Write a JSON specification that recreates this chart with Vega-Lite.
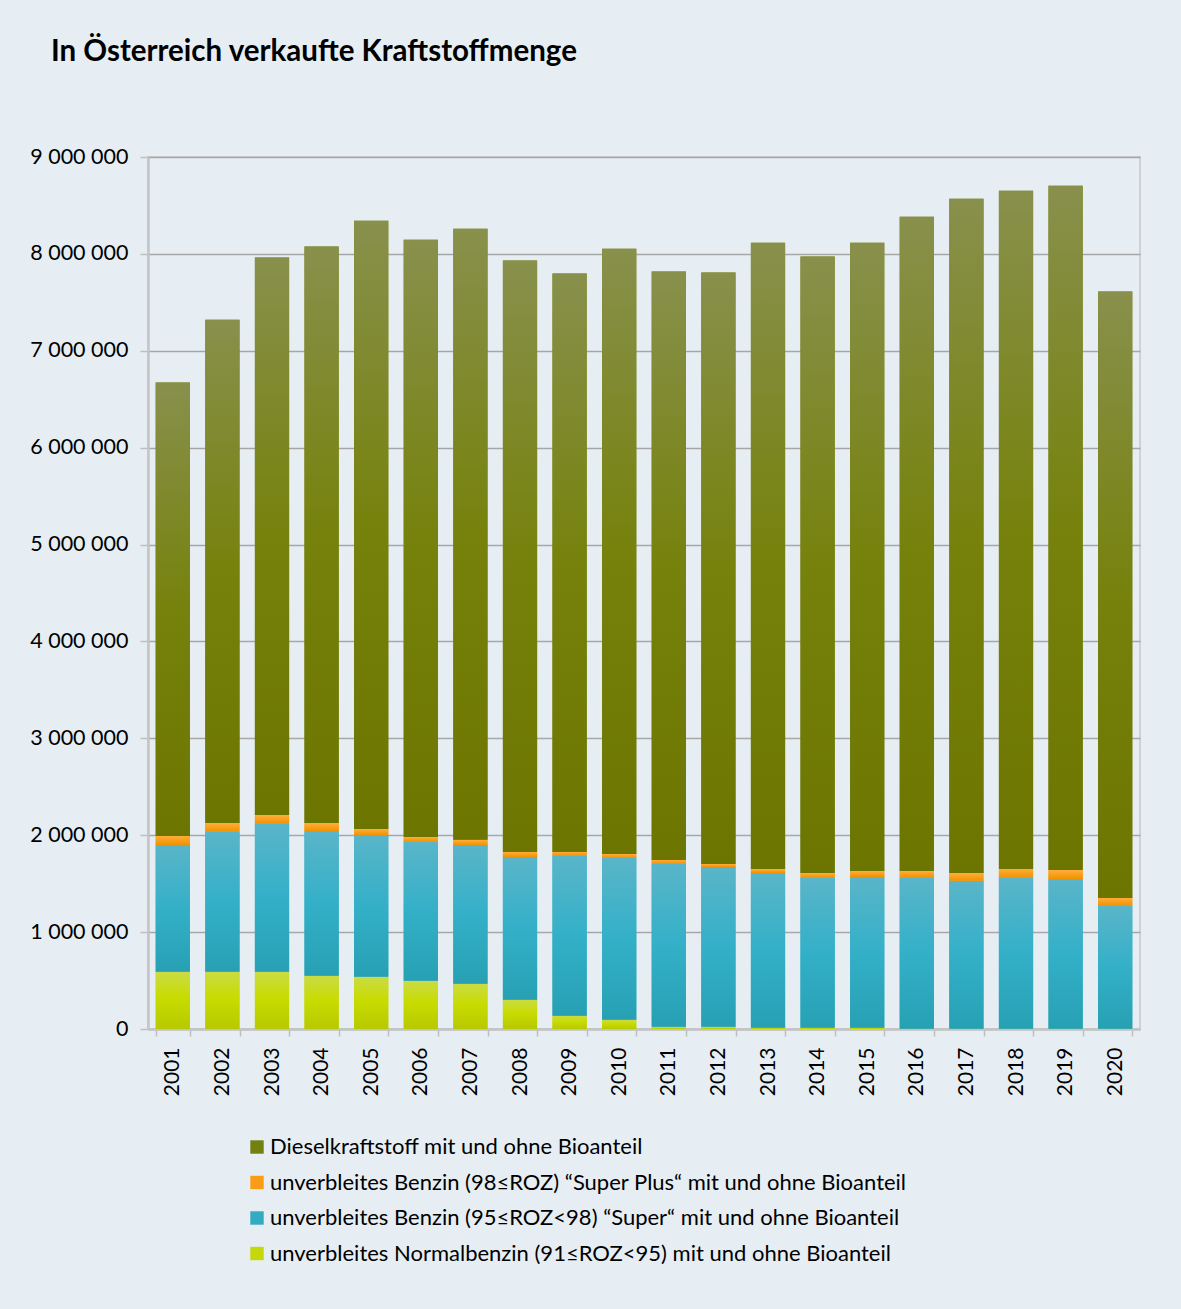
{
  "$schema": "https://vega.github.io/schema/vega-lite/v6.json",
  "width": 992,
  "height": 872,
  "autosize": {"type": "none"},
  "padding": {"left": 148, "top": 157, "right": 41, "bottom": 280},
  "background": "#e6eef4",
  "title": {"text": "In Österreich verkaufte Kraftstoffmenge", "anchor": "start", "frame": "group", "dx": -97, "offset": 79, "font": "Lato", "fontSize": 29.5, "fontWeight": "bold", "color": "#000000"},
  "data": {"values": [
    {"year": "2001", "fuel": "unverbleites Normalbenzin  (91≤ROZ<95) mit und ohne Bioanteil", "value": 591000},
    {"year": "2001", "fuel": "unverbleites Benzin (95≤ROZ<98) “Super“ mit und ohne Bioanteil", "value": 1309000},
    {"year": "2001", "fuel": "unverbleites Benzin (98≤ROZ) “Super Plus“ mit und ohne Bioanteil", "value": 93000},
    {"year": "2001", "fuel": "Dieselkraftstoff mit und ohne Bioanteil", "value": 4680000},
    {"year": "2002", "fuel": "unverbleites Normalbenzin  (91≤ROZ<95) mit und ohne Bioanteil", "value": 591000},
    {"year": "2002", "fuel": "unverbleites Benzin (95≤ROZ<98) “Super“ mit und ohne Bioanteil", "value": 1446000},
    {"year": "2002", "fuel": "unverbleites Benzin (98≤ROZ) “Super Plus“ mit und ohne Bioanteil", "value": 90000},
    {"year": "2002", "fuel": "Dieselkraftstoff mit und ohne Bioanteil", "value": 5193000},
    {"year": "2003", "fuel": "unverbleites Normalbenzin  (91≤ROZ<95) mit und ohne Bioanteil", "value": 591000},
    {"year": "2003", "fuel": "unverbleites Benzin (95≤ROZ<98) “Super“ mit und ohne Bioanteil", "value": 1529000},
    {"year": "2003", "fuel": "unverbleites Benzin (98≤ROZ) “Super Plus“ mit und ohne Bioanteil", "value": 89000},
    {"year": "2003", "fuel": "Dieselkraftstoff mit und ohne Bioanteil", "value": 5753000},
    {"year": "2004", "fuel": "unverbleites Normalbenzin  (91≤ROZ<95) mit und ohne Bioanteil", "value": 549000},
    {"year": "2004", "fuel": "unverbleites Benzin (95≤ROZ<98) “Super“ mit und ohne Bioanteil", "value": 1495000},
    {"year": "2004", "fuel": "unverbleites Benzin (98≤ROZ) “Super Plus“ mit und ohne Bioanteil", "value": 83000},
    {"year": "2004", "fuel": "Dieselkraftstoff mit und ohne Bioanteil", "value": 5948000},
    {"year": "2005", "fuel": "unverbleites Normalbenzin  (91≤ROZ<95) mit und ohne Bioanteil", "value": 539000},
    {"year": "2005", "fuel": "unverbleites Benzin (95≤ROZ<98) “Super“ mit und ohne Bioanteil", "value": 1464000},
    {"year": "2005", "fuel": "unverbleites Benzin (98≤ROZ) “Super Plus“ mit und ohne Bioanteil", "value": 62000},
    {"year": "2005", "fuel": "Dieselkraftstoff mit und ohne Bioanteil", "value": 6278000},
    {"year": "2006", "fuel": "unverbleites Normalbenzin  (91≤ROZ<95) mit und ohne Bioanteil", "value": 498000},
    {"year": "2006", "fuel": "unverbleites Benzin (95≤ROZ<98) “Super“ mit und ohne Bioanteil", "value": 1436000},
    {"year": "2006", "fuel": "unverbleites Benzin (98≤ROZ) “Super Plus“ mit und ohne Bioanteil", "value": 48000},
    {"year": "2006", "fuel": "Dieselkraftstoff mit und ohne Bioanteil", "value": 6165000},
    {"year": "2007", "fuel": "unverbleites Normalbenzin  (91≤ROZ<95) mit und ohne Bioanteil", "value": 467000},
    {"year": "2007", "fuel": "unverbleites Benzin (95≤ROZ<98) “Super“ mit und ohne Bioanteil", "value": 1433000},
    {"year": "2007", "fuel": "unverbleites Benzin (98≤ROZ) “Super Plus“ mit und ohne Bioanteil", "value": 52000},
    {"year": "2007", "fuel": "Dieselkraftstoff mit und ohne Bioanteil", "value": 6308000},
    {"year": "2008", "fuel": "unverbleites Normalbenzin  (91≤ROZ<95) mit und ohne Bioanteil", "value": 302000},
    {"year": "2008", "fuel": "unverbleites Benzin (95≤ROZ<98) “Super“ mit und ohne Bioanteil", "value": 1474000},
    {"year": "2008", "fuel": "unverbleites Benzin (98≤ROZ) “Super Plus“ mit und ohne Bioanteil", "value": 52000},
    {"year": "2008", "fuel": "Dieselkraftstoff mit und ohne Bioanteil", "value": 6103000},
    {"year": "2009", "fuel": "unverbleites Normalbenzin  (91≤ROZ<95) mit und ohne Bioanteil", "value": 137000},
    {"year": "2009", "fuel": "unverbleites Benzin (95≤ROZ<98) “Super“ mit und ohne Bioanteil", "value": 1653000},
    {"year": "2009", "fuel": "unverbleites Benzin (98≤ROZ) “Super Plus“ mit und ohne Bioanteil", "value": 38000},
    {"year": "2009", "fuel": "Dieselkraftstoff mit und ohne Bioanteil", "value": 5969000},
    {"year": "2010", "fuel": "unverbleites Normalbenzin  (91≤ROZ<95) mit und ohne Bioanteil", "value": 96000},
    {"year": "2010", "fuel": "unverbleites Benzin (95≤ROZ<98) “Super“ mit und ohne Bioanteil", "value": 1673000},
    {"year": "2010", "fuel": "unverbleites Benzin (98≤ROZ) “Super Plus“ mit und ohne Bioanteil", "value": 38000},
    {"year": "2010", "fuel": "Dieselkraftstoff mit und ohne Bioanteil", "value": 6247000},
    {"year": "2011", "fuel": "unverbleites Normalbenzin  (91≤ROZ<95) mit und ohne Bioanteil", "value": 24000},
    {"year": "2011", "fuel": "unverbleites Benzin (95≤ROZ<98) “Super“ mit und ohne Bioanteil", "value": 1683000},
    {"year": "2011", "fuel": "unverbleites Benzin (98≤ROZ) “Super Plus“ mit und ohne Bioanteil", "value": 38000},
    {"year": "2011", "fuel": "Dieselkraftstoff mit und ohne Bioanteil", "value": 6072000},
    {"year": "2012", "fuel": "unverbleites Normalbenzin  (91≤ROZ<95) mit und ohne Bioanteil", "value": 24000},
    {"year": "2012", "fuel": "unverbleites Benzin (95≤ROZ<98) “Super“ mit und ohne Bioanteil", "value": 1649000},
    {"year": "2012", "fuel": "unverbleites Benzin (98≤ROZ) “Super Plus“ mit und ohne Bioanteil", "value": 31000},
    {"year": "2012", "fuel": "Dieselkraftstoff mit und ohne Bioanteil", "value": 6103000},
    {"year": "2013", "fuel": "unverbleites Normalbenzin  (91≤ROZ<95) mit und ohne Bioanteil", "value": 13000},
    {"year": "2013", "fuel": "unverbleites Benzin (95≤ROZ<98) “Super“ mit und ohne Bioanteil", "value": 1598000},
    {"year": "2013", "fuel": "unverbleites Benzin (98≤ROZ) “Super Plus“ mit und ohne Bioanteil", "value": 41000},
    {"year": "2013", "fuel": "Dieselkraftstoff mit und ohne Bioanteil", "value": 6464000},
    {"year": "2014", "fuel": "unverbleites Normalbenzin  (91≤ROZ<95) mit und ohne Bioanteil", "value": 13000},
    {"year": "2014", "fuel": "unverbleites Benzin (95≤ROZ<98) “Super“ mit und ohne Bioanteil", "value": 1550000},
    {"year": "2014", "fuel": "unverbleites Benzin (98≤ROZ) “Super Plus“ mit und ohne Bioanteil", "value": 48000},
    {"year": "2014", "fuel": "Dieselkraftstoff mit und ohne Bioanteil", "value": 6361000},
    {"year": "2015", "fuel": "unverbleites Normalbenzin  (91≤ROZ<95) mit und ohne Bioanteil", "value": 13000},
    {"year": "2015", "fuel": "unverbleites Benzin (95≤ROZ<98) “Super“ mit und ohne Bioanteil", "value": 1557000},
    {"year": "2015", "fuel": "unverbleites Benzin (98≤ROZ) “Super Plus“ mit und ohne Bioanteil", "value": 62000},
    {"year": "2015", "fuel": "Dieselkraftstoff mit und ohne Bioanteil", "value": 6484000},
    {"year": "2016", "fuel": "unverbleites Normalbenzin  (91≤ROZ<95) mit und ohne Bioanteil", "value": 3000},
    {"year": "2016", "fuel": "unverbleites Benzin (95≤ROZ<98) “Super“ mit und ohne Bioanteil", "value": 1560000},
    {"year": "2016", "fuel": "unverbleites Benzin (98≤ROZ) “Super Plus“ mit und ohne Bioanteil", "value": 69000},
    {"year": "2016", "fuel": "Dieselkraftstoff mit und ohne Bioanteil", "value": 6752000},
    {"year": "2017", "fuel": "unverbleites Normalbenzin  (91≤ROZ<95) mit und ohne Bioanteil", "value": 3000},
    {"year": "2017", "fuel": "unverbleites Benzin (95≤ROZ<98) “Super“ mit und ohne Bioanteil", "value": 1526000},
    {"year": "2017", "fuel": "unverbleites Benzin (98≤ROZ) “Super Plus“ mit und ohne Bioanteil", "value": 82000},
    {"year": "2017", "fuel": "Dieselkraftstoff mit und ohne Bioanteil", "value": 6959000},
    {"year": "2018", "fuel": "unverbleites Normalbenzin  (91≤ROZ<95) mit und ohne Bioanteil", "value": 3000},
    {"year": "2018", "fuel": "unverbleites Benzin (95≤ROZ<98) “Super“ mit und ohne Bioanteil", "value": 1560000},
    {"year": "2018", "fuel": "unverbleites Benzin (98≤ROZ) “Super Plus“ mit und ohne Bioanteil", "value": 89000},
    {"year": "2018", "fuel": "Dieselkraftstoff mit und ohne Bioanteil", "value": 7000000},
    {"year": "2019", "fuel": "unverbleites Normalbenzin  (91≤ROZ<95) mit und ohne Bioanteil", "value": 3000},
    {"year": "2019", "fuel": "unverbleites Benzin (95≤ROZ<98) “Super“ mit und ohne Bioanteil", "value": 1546000},
    {"year": "2019", "fuel": "unverbleites Benzin (98≤ROZ) “Super Plus“ mit und ohne Bioanteil", "value": 93000},
    {"year": "2019", "fuel": "Dieselkraftstoff mit und ohne Bioanteil", "value": 7062000},
    {"year": "2020", "fuel": "unverbleites Normalbenzin  (91≤ROZ<95) mit und ohne Bioanteil", "value": 3000},
    {"year": "2020", "fuel": "unverbleites Benzin (95≤ROZ<98) “Super“ mit und ohne Bioanteil", "value": 1271000},
    {"year": "2020", "fuel": "unverbleites Benzin (98≤ROZ) “Super Plus“ mit und ohne Bioanteil", "value": 79000},
    {"year": "2020", "fuel": "Dieselkraftstoff mit und ohne Bioanteil", "value": 6259000}
  ]},
  "transform": [{"stack": "value", "groupby": ["year"], "as": ["v0", "v1"]}],
  "encoding": {
    "x": {"field": "year", "type": "ordinal",
      "scale": {"paddingInner": 0.31, "paddingOuter": 0.155},
      "axis": {"title": null, "labelAngle": -90, "labelFontSize": 21, "labelFont": "Lato", "labelColor": "#000000", "labelPadding": 11, "tickBand": "extent", "tickSize": 7, "tickColor": "#bfbfbf", "tickWidth": 1.5, "domainColor": "#c4c4c4", "domainWidth": 2.5}},
    "y": {"field": "v1", "type": "quantitative",
      "scale": {"domain": [0, 9000000], "nice": false},
      "axis": {"title": null, "values": [0, 1000000, 2000000, 3000000, 4000000, 5000000, 6000000, 7000000, 8000000, 9000000], "format": ",d", "labelFontSize": 21.5, "labelFont": "Lato", "labelColor": "#000000", "labelPadding": 12, "tickSize": 8, "tickColor": "#bfbfbf", "tickWidth": 1.5, "gridColor": "#a6a6a6", "gridWidth": 1.5, "domainColor": "#c4c4c4", "domainWidth": 2.5}},
    "y2": {"field": "v0"}
  },
  "layer": [
    {
      "mark": {"type": "bar"},
      "encoding": {
        "color": {"field": "fuel", "type": "nominal",
          "scale": {
            "domain": ["Dieselkraftstoff mit und ohne Bioanteil", "unverbleites Benzin (98≤ROZ) “Super Plus“ mit und ohne Bioanteil", "unverbleites Benzin (95≤ROZ<98) “Super“ mit und ohne Bioanteil", "unverbleites Normalbenzin  (91≤ROZ<95) mit und ohne Bioanteil"],
            "range": ["#72800f", "#fb9c16", "#33abc2", "#c4d80a"]},
          "legend": {"title": null, "orient": "none", "legendX": 98, "legendY": 979, "direction": "vertical", "symbolType": "square", "symbolSize": 180, "symbolStrokeWidth": 0, "labelFontSize": 22, "labelFont": "Lato", "labelColor": "#000000", "labelLimit": 0, "rowPadding": 13.5, "labelOffset": 2}}
      }
    },
    {
      "transform": [{"filter": "datum.fuel == 'unverbleites Normalbenzin  (91≤ROZ<95) mit und ohne Bioanteil'"}],
      "mark": {"type": "bar", "color": {"gradient": "linear", "x1": 0, "y1": 0, "x2": 0, "y2": 1, "stops": [{"offset": 0, "color": "#cadb45"}, {"offset": 0.45, "color": "#c8dc00"}, {"offset": 1, "color": "#b7c900"}]}}
    },
    {
      "transform": [{"filter": "datum.fuel == 'unverbleites Benzin (95≤ROZ<98) “Super“ mit und ohne Bioanteil'"}],
      "mark": {"type": "bar", "color": {"gradient": "linear", "x1": 0, "y1": 0, "x2": 0, "y2": 1, "stops": [{"offset": 0, "color": "#5ab5c9"}, {"offset": 0.5, "color": "#33b0c8"}, {"offset": 1, "color": "#27a0b3"}]}}
    },
    {
      "transform": [{"filter": "datum.fuel == 'unverbleites Benzin (98≤ROZ) “Super Plus“ mit und ohne Bioanteil'"}],
      "mark": {"type": "bar", "color": {"gradient": "linear", "x1": 0, "y1": 0, "x2": 0, "y2": 1, "stops": [{"offset": 0, "color": "#ffad3a"}, {"offset": 1, "color": "#f29200"}]}}
    },
    {
      "transform": [{"filter": "datum.fuel == 'Dieselkraftstoff mit und ohne Bioanteil'"}],
      "mark": {"type": "bar", "color": {"gradient": "linear", "x1": 0, "y1": 0, "x2": 0, "y2": 1, "stops": [{"offset": 0, "color": "#88904c"}, {"offset": 0.5, "color": "#76820c"}, {"offset": 1, "color": "#6c7500"}]}}
    }
  ],
  "config": {
    "locale": {"number": {"decimal": ",", "thousands": " ", "grouping": [3], "currency": ["", " €"]}},
    "view": {"stroke": "#c8c8c8", "strokeWidth": 1.5}
  }
}
